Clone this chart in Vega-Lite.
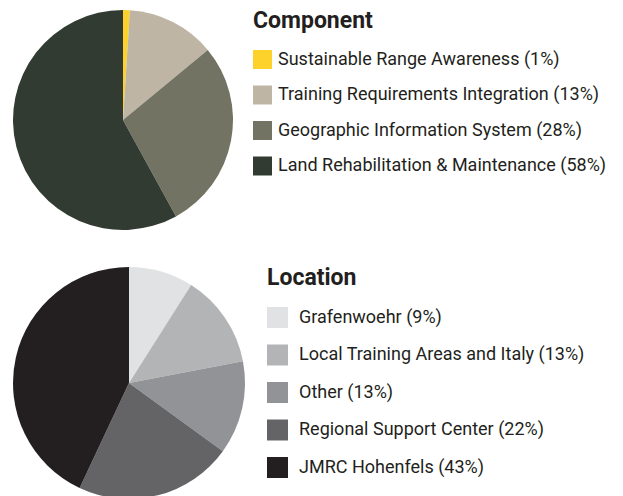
{
  "$schema": "https://vega.github.io/schema/vega-lite/v6.json",
  "padding": {"left": 13, "top": 10, "right": 0, "bottom": 0},
  "background": "white",
  "datasets": {
    "component": [
      {"label": "Sustainable Range Awareness (1%)", "share": 1, "rank": 1},
      {"label": "Training Requirements Integration (13%)", "share": 13, "rank": 2},
      {"label": "Geographic Information System (28%)", "share": 28, "rank": 3},
      {"label": "Land Rehabilitation & Maintenance (58%)", "share": 58, "rank": 4}
    ],
    "location": [
      {"label": "Grafenwoehr (9%)", "share": 9, "rank": 1},
      {"label": "Local Training Areas and Italy (13%)", "share": 13, "rank": 2},
      {"label": "Other (13%)", "share": 13, "rank": 3},
      {"label": "Regional Support Center (22%)", "share": 22, "rank": 4},
      {"label": "JMRC Hohenfels (43%)", "share": 43, "rank": 5}
    ]
  },
  "spacing": 37,
  "resolve": {"scale": {"color": "independent"}, "legend": {"color": "independent"}},
  "vconcat": [
    {
      "width": 220,
      "height": 220,
      "data": {"name": "component"},
      "mark": {"type": "arc"},
      "encoding": {
        "theta": {"field": "share", "type": "quantitative", "stack": true},
        "order": {"field": "rank", "type": "quantitative"},
        "color": {
          "field": "label",
          "type": "nominal",
          "title": "Component",
          "scale": {
            "domain": ["Sustainable Range Awareness (1%)", "Training Requirements Integration (13%)", "Geographic Information System (28%)", "Land Rehabilitation & Maintenance (58%)"],
            "range": ["#FDD22A", "#BEB5A5", "#727363", "#323B32"]
          },
          "legend": {"orient": "right", "offset": 20, "labelOffset": 6, "rowPadding": 16.5, "symbolSize": 361, "titlePadding": 17}
        }
      }
    },
    {
      "width": 232,
      "height": 232,
      "data": {"name": "location"},
      "mark": {"type": "arc"},
      "encoding": {
        "theta": {"field": "share", "type": "quantitative", "stack": true},
        "order": {"field": "rank", "type": "quantitative"},
        "color": {
          "field": "label",
          "type": "nominal",
          "title": "Location",
          "scale": {
            "domain": ["Grafenwoehr (9%)", "Local Training Areas and Italy (13%)", "Other (13%)", "Regional Support Center (22%)", "JMRC Hohenfels (43%)"],
            "range": ["#E1E2E3", "#B3B4B6", "#929396", "#646466", "#231F20"]
          },
          "legend": {"orient": "right", "offset": 22, "labelOffset": 11, "rowPadding": 16.5, "symbolSize": 441, "titlePadding": 17}
        }
      }
    }
  ],
  "config": {
    "view": {"stroke": null},
    "font": "Roboto",
    "legend": {
      "padding": 0,
      "symbolType": "square",
      "symbolStrokeWidth": 0,
      "symbolOpacity": 1,
      "titleFont": "Roboto",
      "titleFontSize": 23,
      "titleFontWeight": "bold",
      "titleColor": "#231F20",
      "titleLimit": 400,
      "labelFont": "Roboto",
      "labelFontSize": 18,
      "labelColor": "#231F20",
      "labelLimit": 400
    }
  }
}
